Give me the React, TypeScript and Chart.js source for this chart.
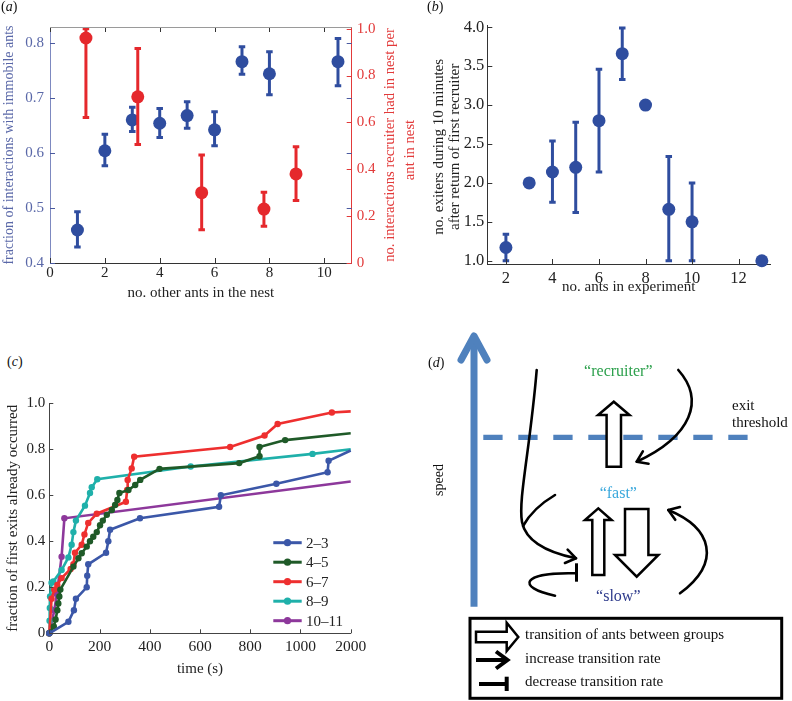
import React, { useEffect, useRef } from 'react';
import { Chart, registerables } from 'chart.js';

Chart.register(...registerables);

const SERIF = "'Liberation Serif', 'Times New Roman', Times, serif";
Chart.defaults.font.family = SERIF;
Chart.defaults.font.size = 14;

// ---------------- Panel (a) ----------------
const A_X_TICKS = [0, 2, 4, 6, 8, 10];
const A_LEFT_TICKS = [0.4, 0.5, 0.6, 0.7, 0.8];
const A_RIGHT_TICKS = [0, 0.2, 0.4, 0.6, 0.8, 1.0];
const A_IMMOBILE_X = [1, 2, 3, 4, 5, 6, 7, 8, 10.5];
const A_IMMOBILE_Y = [0.46, 0.604, 0.66, 0.654, 0.668, 0.642, 0.766, 0.744, 0.766];
const A_IMMOBILE_LO = [0.429, 0.577, 0.639, 0.628, 0.645, 0.613, 0.743, 0.706, 0.722];
const A_IMMOBILE_HI = [0.493, 0.634, 0.683, 0.681, 0.693, 0.675, 0.793, 0.784, 0.808];
const A_RECRUIT_X = [1.31, 3.2, 5.53, 7.8, 8.97];
const A_RECRUIT_Y = [0.96, 0.709, 0.3, 0.23, 0.38];
const A_RECRUIT_LO = [0.621, 0.506, 0.142, 0.157, 0.267];
const A_RECRUIT_HI = [1.0, 0.915, 0.461, 0.302, 0.496];

// ---------------- Panel (b) ----------------
const B_X_TICKS = [2, 4, 6, 8, 10, 12];
const B_Y_TICKS = [1.0, 1.5, 2.0, 2.5, 3.0, 3.5, 4.0];
const B_ANTS = [2, 3, 4, 5, 6, 7, 8, 9, 10, 13];
const B_EXITERS = [1.17, 2.0, 2.14, 2.2, 2.8, 3.66, 3.0, 1.66, 1.5, 1.0];
const B_LO = [1.0, null, 1.75, 1.62, 2.14, 3.33, null, 1.0, 1.0, null];
const B_HI = [1.34, null, 2.54, 2.78, 3.46, 3.99, null, 2.34, 2.0, null];
const B_Y_TITLE = ['no. exiters during 10 minutes', 'after return of first recruiter'];

// ---------------- Panel (c) ----------------
// time in seconds; axis is compressed after 1000 s (1000..2000 s shown in one tick step)
const C_X_TICKS = [0, 200, 400, 600, 800, 1000, 1200];
const C_Y_TICKS = [0, 0.2, 0.4, 0.6, 0.8, 1.0];
const C_LABELS = ['2–3', '4–5', '6–7', '8–9', '10–11'];
const C_T_23 = [0, 76, 98, 106, 149, 151, 155, 226, 235, 242, 361, 676, 683, 904, 1540, 1560, 2000];
const C_Y_23 = [0, 0.05, 0.1, 0.15, 0.2, 0.25, 0.3, 0.35, 0.4, 0.45, 0.5, 0.55, 0.6, 0.65, 0.7, 0.75, 0.795];
const C_T_45 = [0, 18, 25, 32, 36, 40, 44, 96, 116, 129, 149, 162, 175, 189, 202, 213, 229, 249, 262, 271, 279, 315, 342, 362, 439, 756, 837, 837, 939, 2000];
const C_Y_45 = [0, 0.03, 0.06, 0.1, 0.13, 0.16, 0.19, 0.29, 0.326, 0.348, 0.377, 0.4, 0.42, 0.44, 0.47, 0.49, 0.515, 0.536, 0.558, 0.58, 0.61, 0.623, 0.645, 0.667, 0.715, 0.74, 0.77, 0.81, 0.84, 0.87];
const C_T_67 = [0, 9, 20, 32, 49, 85, 96, 102, 129, 140, 155, 189, 305, 310, 312, 328, 338, 720, 857, 909, 1625, 2000];
const C_Y_67 = [0, 0.15, 0.19, 0.21, 0.24, 0.28, 0.3, 0.35, 0.385, 0.43, 0.48, 0.52, 0.572, 0.623, 0.667, 0.717, 0.768, 0.81, 0.86, 0.91, 0.96, 0.965];
const C_T_89 = [0, 1, 2, 3, 9, 16, 49, 76, 89, 96, 106, 142, 162, 169, 191, 563, 1240, 2000];
const C_Y_89 = [0, 0.055, 0.11, 0.16, 0.22, 0.225, 0.275, 0.33, 0.385, 0.44, 0.49, 0.555, 0.61, 0.635, 0.67, 0.725, 0.78, 0.8];
const C_T_1011 = [0, 20, 30, 49, 60, 2000];
const C_Y_1011 = [0, 0.1, 0.17, 0.333, 0.5, 0.66];

const toAxisTime = (t: number) => (t <= 1000 ? t : 1000 + (t - 1000) / 5);
const axisTickLabel = (v: number) => (v === 1200 ? '2000' : String(v));

// ---------------- Panel (d) texts ----------------
const D_LEGEND = ['transition of ants between groups', 'increase transition rate', 'decrease transition rate'];

// ---------------- helpers ----------------
type TickSpec = { id: string; side: 'bottom' | 'left' | 'right'; color: string; len: number; mirror?: boolean };
const inwardTicks = (specs: TickSpec[]) => ({
  id: 'inwardTicks',
  afterDraw(chart: any) {
    const { ctx, chartArea: ca } = chart;
    ctx.save();
    ctx.lineWidth = 1;
    for (const s of specs) {
      const sc = chart.scales[s.id];
      ctx.strokeStyle = s.color;
      ctx.beginPath();
      for (const t of sc.ticks) {
        const p = Math.round(sc.getPixelForValue(t.value)) + 0.5;
        if (s.side === 'bottom') {
          ctx.moveTo(p, ca.bottom); ctx.lineTo(p, ca.bottom - s.len);
          if (s.mirror) { ctx.moveTo(p, ca.top); ctx.lineTo(p, ca.top + s.len); }
        } else if (s.side === 'left') {
          ctx.moveTo(ca.left, p); ctx.lineTo(ca.left + s.len, p);
          if (s.mirror) { ctx.moveTo(ca.right, p); ctx.lineTo(ca.right - s.len, p); }
        } else {
          ctx.moveTo(ca.right, p); ctx.lineTo(ca.right - s.len, p);
        }
      }
      ctx.stroke();
    }
    ctx.restore();
  },
});

type ErrSpec = { index: number; lo: (number | null)[]; hi: (number | null)[]; color: string; width: number; cap: number; yAxis: string };
const errorBars = (specs: ErrSpec[]) => ({
  id: 'errorBars',
  beforeDatasetDraw(chart: any, args: any) {
    const spec = specs.find((s) => s.index === args.index);
    if (!spec) return;
    const meta = chart.getDatasetMeta(args.index);
    const ys = chart.scales[spec.yAxis];
    const ctx = chart.ctx;
    ctx.save();
    ctx.strokeStyle = spec.color;
    ctx.lineWidth = spec.width;
    ctx.lineCap = 'butt';
    meta.data.forEach((pt: any, i: number) => {
      const lo = spec.lo[i];
      const hi = spec.hi[i];
      if (lo == null || hi == null) return;
      const x = pt.x;
      const y1 = ys.getPixelForValue(lo);
      const y2 = ys.getPixelForValue(hi);
      const c = spec.cap / 2;
      ctx.beginPath();
      ctx.moveTo(x, y1); ctx.lineTo(x, y2);
      ctx.moveTo(x - c, y1); ctx.lineTo(x + c, y1);
      ctx.moveTo(x - c, y2); ctx.lineTo(x + c, y2);
      ctx.stroke();
    });
    ctx.restore();
  },
});

const f = (size: number) => ({ family: SERIF, size });
const noGrid = { display: false, drawTicks: false };

function buildA(el: HTMLCanvasElement) {
  const BLUE = '#2f4d9f';
  const RED = '#e5282c';
  const LBLUE = '#5a68a8';
  const LRED = '#e23a3a';
  return new Chart(el, {
    type: 'scatter',
    data: {
      datasets: [
        {
          label: 'recruiter interactions per ant',
          data: A_RECRUIT_X.map((x, i) => ({ x, y: A_RECRUIT_Y[i] })),
          yAxisID: 'y2', backgroundColor: RED, borderWidth: 0, pointRadius: 6.5, clip: false,
        } as any,
        {
          label: 'fraction with immobile ants',
          data: A_IMMOBILE_X.map((x, i) => ({ x, y: A_IMMOBILE_Y[i] })),
          yAxisID: 'y', backgroundColor: BLUE, borderWidth: 0, pointRadius: 6.5, clip: false,
        } as any,
      ],
    },
    options: {
      responsive: false, animation: false, events: [],
      layout: { padding: { top: 27, left: 0, right: 0, bottom: 0 } },
      plugins: { legend: { display: false }, tooltip: { enabled: false } },
      scales: {
        x: {
          type: 'linear', position: 'bottom', min: 0, max: 11,
          afterFit: (s: any) => { s.height = 42; },
          afterBuildTicks: (s: any) => { s.ticks = A_X_TICKS.map((v) => ({ value: v })); },
          grid: noGrid, border: { color: '#333' },
          ticks: { color: '#222', padding: 1, font: f(15) },
          title: { display: true, text: 'no. other ants in the nest', color: '#222', font: f(15), padding: { top: 0, bottom: 3 } },
        },
        y: {
          type: 'linear', position: 'left', min: 0.4, max: 0.829,
          afterFit: (s: any) => { s.width = 50; },
          afterBuildTicks: (s: any) => { s.ticks = A_LEFT_TICKS.map((v) => ({ value: v })); },
          grid: noGrid, border: { color: '#7d89c0' },
          ticks: { color: LBLUE, padding: 6, font: f(15), callback: (v: any) => Number(v).toFixed(1) },
          title: { display: true, text: 'fraction of interactions with immobile ants', color: LBLUE, font: f(14), padding: { top: 1, bottom: 0 } },
        },
        y2: {
          type: 'linear', position: 'right', min: 0, max: 1.007,
          afterFit: (s: any) => { s.width = 73.3; },
          afterBuildTicks: (s: any) => { s.ticks = A_RIGHT_TICKS.map((v) => ({ value: v })); },
          grid: noGrid, border: { color: LRED },
          ticks: { color: LRED, padding: 5, font: f(15), callback: (v: any) => (Number(v) === 0 ? '0' : Number(v).toFixed(1)) },
          title: { display: false },
        },
      },
    } as any,
    plugins: [
      errorBars([
        { index: 0, lo: A_RECRUIT_LO, hi: A_RECRUIT_HI, color: RED, width: 3, cap: 6.5, yAxis: 'y2' },
        { index: 1, lo: A_IMMOBILE_LO, hi: A_IMMOBILE_HI, color: BLUE, width: 3, cap: 6.5, yAxis: 'y' },
      ]),
      inwardTicks([
        { id: 'x', side: 'bottom', color: '#333', len: 5, mirror: true },
        { id: 'y', side: 'left', color: '#4a5aa0', len: 5, mirror: true },
        { id: 'y2', side: 'right', color: LRED, len: 5 },
      ]),
      {
        id: 'aExtras',
        afterDraw(chart: any) {
          const { ctx, chartArea: ca } = chart;
          ctx.save();
          ctx.strokeStyle = '#9a9a9a';
          ctx.lineWidth = 1;
          ctx.beginPath();
          ctx.moveTo(ca.left, Math.round(ca.top) + 0.5);
          ctx.lineTo(ca.right, Math.round(ca.top) + 0.5);
          ctx.stroke();
          const cy = (ca.top + ca.bottom) / 2;
          ctx.translate(ca.right + 38.5, cy);
          ctx.rotate(-Math.PI / 2);
          ctx.fillStyle = LRED;
          ctx.font = `14.7px ${SERIF}`;
          ctx.textAlign = 'center';
          ctx.textBaseline = 'middle';
          ctx.fillText('no. interactions recruiter had in nest per', 0, 0);
          ctx.fillText('ant in nest', -5, 20);
          ctx.restore();
        },
      },
    ],
  });
}

function buildB(el: HTMLCanvasElement) {
  const BLUE = '#2f4d9f';
  return new Chart(el, {
    type: 'scatter',
    data: {
      datasets: [
        {
          label: 'exiters',
          data: B_ANTS.map((x, i) => ({ x, y: B_EXITERS[i] })),
          backgroundColor: BLUE, borderWidth: 0, pointRadius: 6.5, clip: false,
        } as any,
      ],
    },
    options: {
      responsive: false, animation: false, events: [],
      layout: { padding: { top: 25.7, left: 0, right: 22, bottom: 0 } },
      plugins: { legend: { display: false }, tooltip: { enabled: false } },
      scales: {
        x: {
          type: 'linear', position: 'bottom', min: 1.2, max: 13.35,
          afterFit: (s: any) => { s.height = 41; },
          afterBuildTicks: (s: any) => { s.ticks = B_X_TICKS.map((v) => ({ value: v })); },
          grid: noGrid, border: { color: '#333' },
          ticks: { color: '#222', padding: 5, font: f(16.5) },
          title: { display: true, text: 'no. ants in experiment', color: '#222', font: f(15), padding: { top: 0, bottom: 9 } },
        },
        y: {
          type: 'linear', position: 'left', min: 0.958, max: 4.02,
          afterFit: (s: any) => { s.width = 87.3; },
          afterBuildTicks: (s: any) => { s.ticks = B_Y_TICKS.map((v) => ({ value: v })); },
          grid: noGrid, border: { color: '#333' },
          ticks: { color: '#222', padding: 3, font: f(16.5), callback: (v: any) => Number(v).toFixed(1) },
          title: { display: false },
        },
      },
    } as any,
    plugins: [
      errorBars([{ index: 0, lo: B_LO, hi: B_HI, color: BLUE, width: 3, cap: 6.5, yAxis: 'y' }]),
      inwardTicks([
        { id: 'x', side: 'bottom', color: '#333', len: 5 },
        { id: 'y', side: 'left', color: '#333', len: 5 },
      ]),
      {
        id: 'bTitle',
        afterDraw(chart: any) {
          const { ctx, chartArea: ca } = chart;
          ctx.save();
          ctx.font = `14px ${SERIF}`;
          ctx.fillStyle = '#222';
          ctx.textAlign = 'center';
          ctx.textBaseline = 'middle';
          const w = ctx.measureText(B_Y_TITLE[0]).width;
          const sx = 176 / w;
          const cy = (ca.top + ca.bottom) / 2 + 2;
          ctx.translate(ca.left - 48, cy);
          ctx.rotate(-Math.PI / 2);
          ctx.scale(sx, 1);
          ctx.fillText(B_Y_TITLE[0], 0, 0);
          ctx.fillText(B_Y_TITLE[1], 0, 16);
          ctx.restore();
        },
      },
    ],
  });
}

function buildC(el: HTMLCanvasElement) {
  const series = [
    { label: C_LABELS[0], t: C_T_23, y: C_Y_23, color: '#3b57a8' },
    { label: C_LABELS[1], t: C_T_45, y: C_Y_45, color: '#1f5a28' },
    { label: C_LABELS[2], t: C_T_67, y: C_Y_67, color: '#ee2f2f' },
    { label: C_LABELS[3], t: C_T_89, y: C_Y_89, color: '#1fb0aa' },
    { label: C_LABELS[4], t: C_T_1011, y: C_Y_1011, color: '#8d389b' },
  ];
  return new Chart(el, {
    type: 'scatter',
    data: {
      datasets: series.map((s) => ({
        label: s.label,
        data: s.t.map((t, i) => ({ x: toAxisTime(t), y: s.y[i] })),
        showLine: true,
        borderColor: s.color,
        backgroundColor: s.color,
        borderWidth: 2.6,
        pointRadius: s.t.map((t) => (t >= 2000 ? 0 : 3.2)),
        pointBorderWidth: 0,
        tension: 0,
        clip: false,
      })) as any,
    },
    options: {
      responsive: false, animation: false, events: [],
      layout: { padding: { top: 23.3, left: 0, right: 49.3, bottom: 0 } },
      plugins: { legend: { display: false }, tooltip: { enabled: false } },
      scales: {
        x: {
          type: 'linear', position: 'bottom', min: 0, max: 1200,
          afterFit: (s: any) => { s.height = 56.7; },
          afterBuildTicks: (s: any) => { s.ticks = C_X_TICKS.map((v) => ({ value: v })); },
          grid: noGrid, border: { color: '#444' },
          ticks: { color: '#222', padding: 4, font: f(15.5), callback: (v: any) => axisTickLabel(Number(v)) },
          title: { display: true, text: 'time (s)', color: '#222', font: f(15), padding: { top: 0, bottom: 12 } },
        },
        y: {
          type: 'linear', position: 'left', min: 0, max: 1.0,
          afterFit: (s: any) => { s.width = 49.3; },
          afterBuildTicks: (s: any) => { s.ticks = C_Y_TICKS.map((v) => ({ value: v })); },
          grid: noGrid, border: { color: '#444' },
          ticks: { color: '#222', padding: 4, font: f(15), callback: (v: any) => (Number(v) === 0 ? '0' : Number(v).toFixed(1)) },
          title: { display: true, text: 'fraction of first exits already occurred', color: '#222', font: f(15), padding: { top: 4.5, bottom: 0 } },
        },
      },
    } as any,
    plugins: [
      inwardTicks([
        { id: 'x', side: 'bottom', color: '#444', len: 4 },
        { id: 'y', side: 'left', color: '#444', len: 4 },
      ]),
      {
        id: 'cLegend',
        afterDraw(chart: any) {
          const { ctx, chartArea: ca } = chart;
          ctx.save();
          ctx.font = `15px ${SERIF}`;
          ctx.textBaseline = 'middle';
          ctx.textAlign = 'left';
          chart.data.datasets.forEach((ds: any, i: number) => {
            const y = ca.bottom - 90.6 + i * 19.5;
            const x0 = ca.left + 224;
            const x1 = ca.left + 252.4;
            ctx.strokeStyle = ds.borderColor;
            ctx.lineWidth = 3;
            ctx.beginPath();
            ctx.moveTo(x0, y); ctx.lineTo(x1, y);
            ctx.stroke();
            ctx.fillStyle = ds.borderColor;
            ctx.beginPath();
            ctx.arc((x0 + x1) / 2, y, 3.6, 0, Math.PI * 2);
            ctx.fill();
            ctx.fillStyle = '#222';
            ctx.fillText(ds.label, ca.left + 256.7, y + 1);
          });
          ctx.restore();
        },
      },
    ],
  });
}

function buildD(el: HTMLCanvasElement) {
  const SPEED = '#4f81bd';
  return new Chart(el, {
    type: 'scatter',
    data: { datasets: [] },
    options: {
      responsive: false, animation: false, events: [],
      layout: { padding: 0 },
      plugins: { legend: { display: false }, tooltip: { enabled: false } },
      scales: {
        x: { type: 'linear', display: false, min: 0, max: 392 },
        y: { type: 'linear', display: false, min: 0, max: 401, reverse: true },
      },
    } as any,
    plugins: [
      {
        id: 'diagram',
        afterDraw(chart: any) {
          const ctx: CanvasRenderingContext2D = chart.ctx;
          const xs = chart.scales.x;
          const ys = chart.scales.y;
          const X = (v: number) => xs.getPixelForValue(v);
          const Y = (v: number) => ys.getPixelForValue(v);
          const line = (pts: number[][]) => {
            ctx.beginPath();
            ctx.moveTo(X(pts[0][0]), Y(pts[0][1]));
            for (let i = 1; i < pts.length; i++) ctx.lineTo(X(pts[i][0]), Y(pts[i][1]));
          };
          const chevron = (tx: number, ty: number, fx: number, fy: number, len: number, ang: number) => {
            const a = Math.atan2(Y(ty) - Y(fy), X(tx) - X(fx));
            ctx.beginPath();
            ctx.moveTo(X(tx) - len * Math.cos(a - ang), Y(ty) - len * Math.sin(a - ang));
            ctx.lineTo(X(tx), Y(ty));
            ctx.lineTo(X(tx) - len * Math.cos(a + ang), Y(ty) - len * Math.sin(a + ang));
            ctx.stroke();
          };
          const hollowV = (cx: number, sh: number, hh: number, tip: number, base: number, end: number) => {
            line([[cx - sh, end], [cx - sh, base], [cx - hh, base], [cx, tip], [cx + hh, base], [cx + sh, base], [cx + sh, end]]);
            ctx.closePath();
            ctx.fillStyle = '#fff';
            ctx.fill();
            ctx.strokeStyle = '#000';
            ctx.lineWidth = 2.5;
            ctx.lineJoin = 'miter';
            ctx.stroke();
          };
          ctx.save();

          // speed axis arrow
          ctx.strokeStyle = SPEED;
          ctx.lineWidth = 7;
          ctx.lineCap = 'butt';
          line([[74, 306.7], [74, 38]]);
          ctx.stroke();
          ctx.lineCap = 'round';
          ctx.lineJoin = 'round';
          line([[61, 60], [74, 36], [87, 60]]);
          ctx.stroke();

          // exit threshold dashed line
          ctx.lineCap = 'butt';
          ctx.lineWidth = 5.3;
          ctx.setLineDash([19.3, 15.7]);
          line([[83.3, 137.3], [348, 137.3]]);
          ctx.stroke();
          ctx.setLineDash([]);

          // texts
          ctx.font = `15px ${SERIF}`;
          ctx.fillStyle = '#111';
          ctx.textBaseline = 'middle';
          ctx.textAlign = 'left';
          ctx.fillText('exit', X(332), Y(106));
          ctx.fillText('threshold', X(332), Y(123.3));
          ctx.save();
          ctx.font = `14px ${SERIF}`;
          ctx.translate(X(39.5), Y(180));
          ctx.rotate(-Math.PI / 2);
          ctx.textAlign = 'center';
          ctx.fillText('speed', 0, 0);
          ctx.restore();
          ctx.textAlign = 'center';
          ctx.font = `16px ${SERIF}`;
          ctx.fillStyle = '#2ca04c';
          ctx.fillText('“recruiter”', X(218.3), Y(71.7));
          ctx.fillStyle = '#3aa8dc';
          ctx.fillText('“fast”', X(218.3), Y(193.3));
          ctx.fillStyle = '#2e3b8c';
          ctx.fillText('“slow”', X(218.3), Y(296.7));

          // hollow transition arrows
          hollowV(213.8, 7.2, 15.7, 101.7, 115, 166.7);
          hollowV(198.3, 6, 13.3, 208.3, 220, 275);
          hollowV(236.7, 11.7, 21.7, 276.7, 255, 209);

          // curved influence arrows
          ctx.strokeStyle = '#000';
          ctx.lineWidth = 2.6;
          ctx.lineCap = 'round';
          ctx.lineJoin = 'round';
          ctx.beginPath();
          ctx.moveTo(X(136.7), Y(70));
          ctx.bezierCurveTo(X(130), Y(150), X(118), Y(200), X(122), Y(222));
          ctx.bezierCurveTo(X(126), Y(242), X(150), Y(253), X(176), Y(258.3));
          ctx.stroke();
          chevron(176, 258.3, 150, 253, 12, 0.6);
          ctx.beginPath();
          ctx.moveTo(X(155), Y(195));
          ctx.quadraticCurveTo(X(133), Y(208), X(123), Y(226));
          ctx.stroke();
          ctx.beginPath();
          ctx.moveTo(X(278.3), Y(70));
          ctx.bezierCurveTo(X(305), Y(100), X(292), Y(136), X(236.7), Y(161.7));
          ctx.stroke();
          chevron(236.7, 161.7, 262, 150, 12, 0.6);
          ctx.beginPath();
          ctx.moveTo(X(155), Y(295.7));
          ctx.bezierCurveTo(X(115), Y(287), X(122), Y(272), X(175), Y(273.3));
          ctx.stroke();
          ctx.lineWidth = 3;
          ctx.lineCap = 'butt';
          line([[176.5, 263.3], [176.5, 281.7]]);
          ctx.stroke();
          ctx.lineWidth = 2.6;
          ctx.lineCap = 'round';
          ctx.beginPath();
          ctx.moveTo(X(280), Y(293.3));
          ctx.bezierCurveTo(X(322), Y(262), X(312), Y(228), X(268.3), Y(210));
          ctx.stroke();
          chevron(268.3, 210, 290, 218, 12, 0.6);

          // legend box
          ctx.lineWidth = 3;
          ctx.lineCap = 'butt';
          ctx.lineJoin = 'miter';
          ctx.strokeStyle = '#000';
          ctx.strokeRect(X(70), Y(318.3), X(381.7) - X(70), Y(398.3) - Y(318.3));
          line([[76, 331.7], [106.7, 331.7], [106.7, 322.7], [118.3, 337], [106.7, 351], [106.7, 342.3], [76, 342.3]]);
          ctx.closePath();
          ctx.fillStyle = '#fff';
          ctx.fill();
          ctx.lineWidth = 2.5;
          ctx.stroke();
          ctx.lineWidth = 4;
          line([[76, 360], [106, 360]]);
          ctx.stroke();
          ctx.lineJoin = 'miter';
          line([[96, 351.5], [107.5, 360], [96, 368.5]]);
          ctx.stroke();
          line([[79, 384], [106.7, 384]]);
          ctx.stroke();
          line([[106.7, 376.7], [106.7, 391]]);
          ctx.stroke();
          ctx.font = `15px ${SERIF}`;
          ctx.fillStyle = '#111';
          ctx.textAlign = 'left';
          ctx.textBaseline = 'middle';
          ctx.fillText(D_LEGEND[0], X(125), Y(335.5));
          ctx.fillText(D_LEGEND[1], X(125), Y(359.5));
          ctx.fillText(D_LEGEND[2], X(125), Y(382));

          ctx.restore();
        },
      },
    ],
  });
}

const labelStyle = (left: number, top: number): React.CSSProperties => ({
  position: 'absolute', left, top, fontSize: 14, lineHeight: '16px', fontFamily: SERIF, color: '#111',
});

export default function App() {
  const aRef = useRef<HTMLCanvasElement>(null);
  const bRef = useRef<HTMLCanvasElement>(null);
  const cRef = useRef<HTMLCanvasElement>(null);
  const dRef = useRef<HTMLCanvasElement>(null);

  useEffect(() => {
    const charts = [
      buildA(aRef.current!),
      buildB(bRef.current!),
      buildC(cRef.current!),
      buildD(dRef.current!),
    ];
    return () => charts.forEach((c) => c.destroy());
  }, []);

  return (
    <div style={{ position: 'absolute', left: 0, top: 0, width: 792, height: 701, background: '#fff', overflow: 'hidden', fontFamily: SERIF }}>
      <canvas ref={aRef} width={425} height={305} style={{ position: 'absolute', left: 0, top: 0 }} />
      <canvas ref={bRef} width={392} height={305} style={{ position: 'absolute', left: 400, top: 0 }} />
      <canvas ref={cRef} width={400} height={310} style={{ position: 'absolute', left: 0, top: 380 }} />
      <canvas ref={dRef} width={392} height={401} style={{ position: 'absolute', left: 400, top: 300 }} />
      <div style={labelStyle(1, -1)}>(<i>a</i>)</div>
      <div style={labelStyle(427, -1)}>(<i>b</i>)</div>
      <div style={labelStyle(7, 354)}>(<i>c</i>)</div>
      <div style={labelStyle(428, 354.5)}>(<i>d</i>)</div>
    </div>
  );
}
